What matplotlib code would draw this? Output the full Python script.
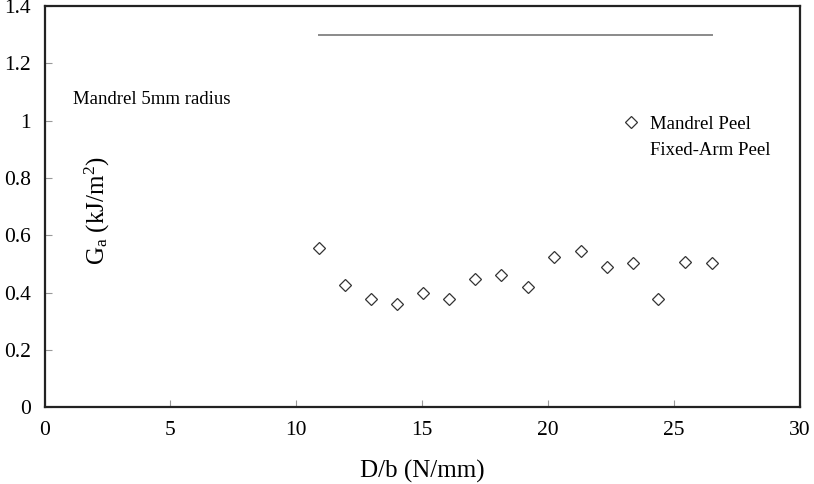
import matplotlib
matplotlib.use("Agg")
import matplotlib.pyplot as plt
from matplotlib.lines import Line2D

plt.rcParams["font.family"] = ["Liberation Serif", "DejaVu Serif"]
plt.rcParams["mathtext.fontset"] = "custom"
plt.rcParams["mathtext.rm"] = "Liberation Serif"
plt.rcParams["mathtext.it"] = "Liberation Serif:italic"

# Mandrel peel measurements
load_per_width = [10.90, 11.93, 12.95, 13.99, 15.04, 16.08, 17.10, 18.13,
                  19.21, 20.25, 21.31, 22.33, 23.36, 24.38, 25.44, 26.50]
adhesive_fracture = [0.555, 0.427, 0.377, 0.360, 0.400, 0.378, 0.447, 0.462,
                     0.421, 0.523, 0.545, 0.491, 0.502, 0.378, 0.506, 0.502]

# Fixed-arm peel reference value
fixed_arm_value = 1.30

x_ticks = [0, 5, 10, 15, 20, 25, 30]
y_ticks = [0, 0.2, 0.4, 0.6, 0.8, 1.0, 1.2, 1.4]
y_tick_labels = ["0", "0.2", "0.4", "0.6", "0.8", "1", "1.2", "1.4"]

fig = plt.figure(figsize=(8.14, 4.84), dpi=100)
ax = fig.add_axes([0.0547, 0.1585, 0.9281, 0.8291])

ax.plot(load_per_width, adhesive_fracture, linestyle="none", marker="D",
        markersize=6.2, markerfacecolor="white", markeredgecolor="#333333",
        markeredgewidth=0.9, zorder=3)
ax.plot([load_per_width[0], load_per_width[-1]],
        [fixed_arm_value, fixed_arm_value], color="#8a8a8a", linewidth=1.4)

ax.set_xlim(0, 30)
ax.set_ylim(0, 1.4)
ax.set_xticks(x_ticks)
ax.set_xticklabels([str(t) for t in x_ticks])
ax.set_yticks(y_ticks)
ax.set_yticklabels(y_tick_labels)

ax.tick_params(axis="both", direction="in", length=5, width=0.8,
               color="#999999", labelsize=15.5)
ax.tick_params(axis="x", pad=10)
ax.tick_params(axis="y", pad=10)
for side, sp in ax.spines.items():
    sp.set_color("#222222")
    sp.set_linewidth(1.6)

ax.set_xlabel("D/b (N/mm)", fontsize=18, labelpad=14)

ax.text(0.070, 0.49, r"G$_{\mathrm{a}}$ (kJ/m$^2$)", transform=ax.transAxes,
        rotation=90, ha="center", va="center", fontsize=18)

ax.text(0.038, 0.766, "Mandrel 5mm radius", transform=ax.transAxes,
        ha="left", va="center", fontsize=13.5)

handles = [
    Line2D([], [], linestyle="none", marker="D", markersize=6.2,
           markerfacecolor="white", markeredgecolor="#333333",
           markeredgewidth=0.9),
    Line2D([], [], linestyle="none", marker="None"),
]
ax.legend(handles, ["Mandrel Peel", "Fixed-Arm Peel"], loc="upper left",
          bbox_to_anchor=(0.757, 0.745), frameon=False, fontsize=13.5,
          handlelength=0.8, handletextpad=0.6, labelspacing=0.5,
          borderaxespad=0)

fig.savefig("out.png", dpi=100)
